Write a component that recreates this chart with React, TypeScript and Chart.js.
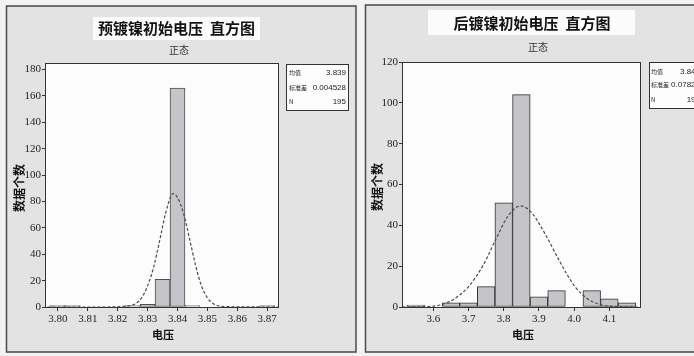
import React, { useEffect, useRef } from "react";
import { Chart, registerables } from "chart.js";
Chart.register(...registerables);

// ---------- data ----------
const leftBins = [3.8, 3.805, 3.81, 3.815, 3.82, 3.825, 3.83, 3.835, 3.84, 3.845, 3.85, 3.855, 3.86, 3.865, 3.87];
const leftCounts = [1, 1, 0, 0, 0, 1, 2, 21, 166, 1, 0, 0, 0, 0, 1];
const leftCurveX = [3.7965, 3.815, 3.822, 3.826, 3.828, 3.83, 3.832, 3.834, 3.836, 3.838, 3.8385, 3.84, 3.842, 3.844, 3.846, 3.848, 3.85, 3.852, 3.856, 3.8735];
const leftCurveY = [0, 0, 0.5, 2.5, 7, 16, 30, 50, 71, 85, 86, 83, 71, 52, 32, 16, 7, 2.5, 0.3, 0];
const leftXTicks = [3.8, 3.81, 3.82, 3.83, 3.84, 3.85, 3.86, 3.87];
const leftYTicks = [0, 20, 40, 60, 80, 100, 120, 140, 160, 180];
const leftStatLabels = ["均值", "标准差", "N"];
const leftStatValues = ["3.839", "0.004528", "195"];

const rightBins = [3.55, 3.6, 3.65, 3.7, 3.75, 3.8, 3.85, 3.9, 3.95, 4.0, 4.05, 4.1, 4.15];
const rightCounts = [1, 0, 2, 2, 10, 51, 104, 5, 8, 0, 8, 4, 2];
const rightCurveX = [3.512, 3.58, 3.62, 3.66, 3.7, 3.74, 3.78, 3.81, 3.848, 3.88, 3.92, 3.96, 4.0, 4.04, 4.08, 4.12, 4.186];
const rightCurveY = [0, 0.2, 1, 4, 10, 20, 34, 44, 49.5, 46, 35, 22, 10.5, 3.8, 1, 0.2, 0];
const rightXTicks = [3.6, 3.7, 3.8, 3.9, 4.0, 4.1];
const rightYTicks = [0, 20, 40, 60, 80, 100, 120];
const rightStatLabels = ["均值", "标准差", "N"];
const rightStatValues = ["3.848", "0.07823", "197"];

const leftTitle = "预镀镍初始电压  直方图";
const rightTitle = "后镀镍初始电压  直方图";
const subTitle = "正态";
const xTitle = "电压";
const yTitle = "数据个数";

type Spec = {
  pageLeft: number;
  width: number;
  title: string;
  bins: number[];
  counts: number[];
  curveX: number[];
  curveY: number[];
  xTicks: number[];
  yTicks: number[];
  xDec: number;
  xMin: number;
  xMax: number;
  yMax: number;
  statLabels: string[];
  statValues: string[];
  panel: [number, number, number, number];
  titleBox: [number, number, number, number];
  titleCenter: [number, number];
  subCenter: [number, number];
  yAxisWidth: number;
  pad: { left: number; right: number; top: number; bottom: number };
  yTitlePos: [number, number];
  xTitlePos: [number, number];
  legendBox: [number, number, number, number];
  legendLabelX: number;
  legendValueX: number;
  legendRows: number[];
  barBorder: string;
};

const H = 356;
const CJK = '"Noto Sans CJK SC", sans-serif';

function Panel({ s }: { s: Spec }) {
  const ref = useRef<HTMLCanvasElement | null>(null);
  useEffect(() => {
    const canvas = ref.current;
    if (!canvas) return;
    const decor = {
      id: "decor",
      beforeDraw(chart: any) {
        const ctx = chart.ctx as CanvasRenderingContext2D;
        ctx.save();
        ctx.fillStyle = "#f2f2f2";
        ctx.fillRect(0, 0, s.width, H);
        const [px, py, pw, ph] = s.panel;
        ctx.fillStyle = "#e3e3e3";
        ctx.fillRect(px, py, pw, ph);
        ctx.strokeStyle = "#4a4a4a";
        ctx.lineWidth = 1.5;
        ctx.strokeRect(px, py, pw, ph);
        const [tx, ty, tw, th] = s.titleBox;
        ctx.fillStyle = "#fbfbfb";
        ctx.fillRect(tx, ty, tw, th);
        ctx.fillStyle = "#111";
        ctx.textAlign = "center";
        ctx.textBaseline = "middle";
        ctx.font = "bold 15px " + CJK;
        ctx.fillText(s.title, s.titleCenter[0], s.titleCenter[1]);
        ctx.fillStyle = "#333";
        ctx.font = "10px " + CJK;
        ctx.fillText(subTitle, s.subCenter[0], s.subCenter[1]);
        const a = chart.chartArea;
        ctx.fillStyle = "#fcfcfd";
        ctx.fillRect(a.left, a.top, a.right - a.left, a.bottom - a.top);
        ctx.restore();
      },
      afterDraw(chart: any) {
        const ctx = chart.ctx as CanvasRenderingContext2D;
        const a = chart.chartArea;
        ctx.save();
        ctx.strokeStyle = "#333";
        ctx.lineWidth = 1;
        ctx.strokeRect(Math.round(a.left) + 0.5, Math.round(a.top) + 0.5, Math.round(a.right - a.left), Math.round(a.bottom - a.top));
        ctx.fillStyle = "#111";
        ctx.textAlign = "center";
        ctx.textBaseline = "middle";
        ctx.font = "bold 11px " + CJK;
        ctx.fillText(xTitle, s.xTitlePos[0], s.xTitlePos[1]);
        ctx.save();
        ctx.translate(s.yTitlePos[0], s.yTitlePos[1]);
        ctx.rotate(-Math.PI / 2);
        ctx.font = "bold 12px " + CJK;
        ctx.fillText(yTitle, 0, 0);
        ctx.restore();
        const [lx, ly, lw, lh] = s.legendBox;
        ctx.fillStyle = "#fdfdfd";
        ctx.fillRect(lx, ly, lw, lh);
        ctx.strokeStyle = "#333";
        ctx.lineWidth = 1;
        ctx.strokeRect(lx, ly, lw, lh);
        ctx.fillStyle = "#222";
        s.statLabels.forEach((lab, i) => {
          ctx.textAlign = "left";
          ctx.font = "6px " + CJK;
          ctx.fillText(lab, s.legendLabelX, s.legendRows[i]);
          ctx.textAlign = "right";
          ctx.font = '8px "Liberation Sans", sans-serif';
          ctx.fillText(s.statValues[i], s.legendValueX, s.legendRows[i]);
        });
        ctx.restore();
      },
    };
    const tickFont = { family: '"Liberation Serif", serif', size: 11 };
    const chart = new Chart(canvas, {
      type: "bar",
      data: {
        datasets: [
          {
            type: "line",
            data: s.curveX.map((x, i) => ({ x, y: s.curveY[i] })),
            borderColor: "#4a4a4a",
            borderWidth: 1.2,
            borderDash: [3, 2],
            pointRadius: 0,
            cubicInterpolationMode: "monotone",
            fill: false,
            order: 0,
          } as any,
          {
            type: "bar",
            data: s.bins.map((x, i) => ({ x, y: s.counts[i] })),
            backgroundColor: "#c5c5c9",
            borderColor: s.barBorder,
            borderWidth: 1,
            borderSkipped: false,
            barPercentage: 1,
            categoryPercentage: 1,
            order: 1,
          } as any,
        ],
      },
      options: {
        responsive: false,
        animation: false,
        devicePixelRatio: 1,
        layout: { padding: s.pad },
        plugins: { legend: { display: false }, tooltip: { enabled: false } },
        scales: {
          x: {
            type: "linear",
            min: s.xMin,
            max: s.xMax,
            offset: false,
            grid: { offset: false, drawOnChartArea: false, drawTicks: true, tickLength: 4, color: "#333" },
            border: { display: true, color: "#333" },
            ticks: {
              font: tickFont,
              color: "#222",
              padding: 2,
              maxRotation: 0,
              autoSkip: false,
              callback: (v: any) => Number(v).toFixed(s.xDec),
            },
            afterBuildTicks: (sc: any) => {
              sc.ticks = s.xTicks.map((v) => ({ value: v }));
            },
            afterFit: (sc: any) => {
              sc.height = 30;
            },
          },
          y: {
            type: "linear",
            min: 0,
            max: s.yMax,
            grid: { drawOnChartArea: false, drawTicks: true, tickLength: 3, color: "#333" },
            border: { display: true, color: "#333" },
            ticks: { font: tickFont, color: "#222", padding: 1, autoSkip: false },
            afterBuildTicks: (sc: any) => {
              sc.ticks = s.yTicks.map((v) => ({ value: v }));
            },
            afterFit: (sc: any) => {
              sc.width = s.yAxisWidth;
            },
          },
        },
      } as any,
      plugins: [decor],
    });
    return () => chart.destroy();
  }, [s]);
  return (
    <canvas
      ref={ref}
      width={s.width}
      height={H}
      style={{ position: "absolute", left: s.pageLeft, top: 0, width: s.width, height: H }}
    />
  );
}

const leftSpec: Spec = {
  pageLeft: 0,
  width: 360,
  title: leftTitle,
  bins: leftBins,
  counts: leftCounts,
  curveX: leftCurveX,
  curveY: leftCurveY,
  xTicks: leftXTicks,
  yTicks: leftYTicks,
  xDec: 2,
  xMin: 3.7957,
  xMax: 3.8736,
  yMax: 185,
  statLabels: leftStatLabels,
  statValues: leftStatValues,
  panel: [6.5, 6, 349.5, 346],
  titleBox: [93, 17, 167, 23],
  titleCenter: [176.5, 28.5],
  subCenter: [179, 50],
  yAxisWidth: 40,
  pad: { left: 5, right: 82, top: 63, bottom: 19 },
  yTitlePos: [19, 188],
  xTitlePos: [163, 335],
  legendBox: [286.5, 64.5, 62, 46],
  legendLabelX: 289,
  legendValueX: 346,
  legendRows: [73, 88, 102],
  barBorder: "#4e4e4e",
};

const rightSpec: Spec = {
  pageLeft: 360,
  width: 334,
  title: rightTitle,
  bins: rightBins,
  counts: rightCounts,
  curveX: rightCurveX,
  curveY: rightCurveY,
  xTicks: rightXTicks,
  yTicks: rightYTicks,
  xDec: 1,
  xMin: 3.511,
  xMax: 4.187,
  yMax: 120,
  statLabels: rightStatLabels,
  statValues: rightStatValues,
  panel: [5.5, 5, 345, 347],
  titleBox: [68, 10, 207, 25],
  titleCenter: [172, 23],
  subCenter: [178, 47],
  yAxisWidth: 37,
  pad: { left: 5, right: 54, top: 62, bottom: 19 },
  yTitlePos: [17, 187],
  xTitlePos: [163, 335],
  legendBox: [289.5, 62.5, 62, 46],
  legendLabelX: 291,
  legendValueX: 340,
  legendRows: [72, 85, 100],
  barBorder: "#333",
};

export default function App() {
  useEffect(() => {
    document.body.style.margin = "0";
    document.body.style.background = "#f2f2f2";
  }, []);
  return (
    <div style={{ position: "relative", width: 694, height: H, overflow: "hidden", background: "#f2f2f2" }}>
      <Panel s={leftSpec} />
      <Panel s={rightSpec} />
    </div>
  );
}
